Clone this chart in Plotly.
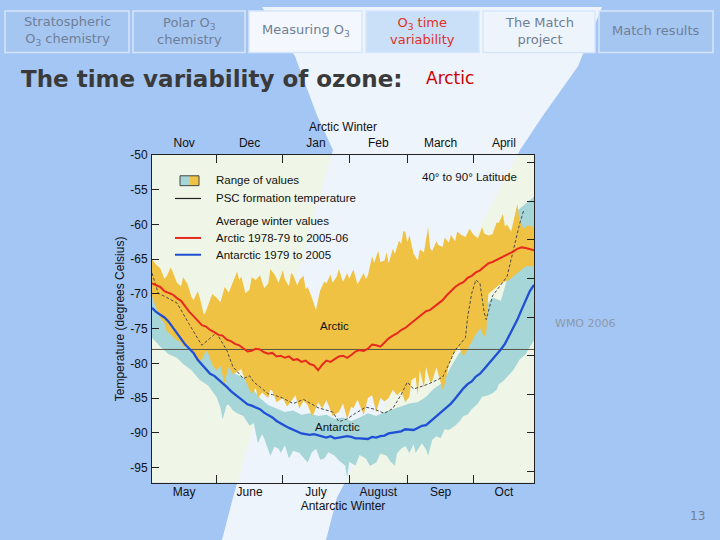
import plotly.graph_objects as go

# ---------------- data ----------------
# x = day of winter season (0 = 1 May for Antarctic / 1 Nov for Arctic)
month_bounds = [31, 63, 95, 123, 155]
month_centers = [15.5, 47, 79, 109, 139, 169.5]
antarctic_months = ["May", "June", "July", "August", "Sep", "Oct"]
arctic_months = ["Nov", "Dec", "Jan", "Feb", "March", "April"]
yticks = [-50, -55, -60, -65, -70, -75, -80, -85, -90, -95]
fticks = [-60, -70, -80, -90, -100, -110, -120, -130, -140]

psc_temp = -78.0

arctic_top_days = [0,2,4,6,7,9,10,12,14,15,17,19,20,22,23,25,26,28,29,31,33,35,37,39,41,42,43,45,47,48,50,52,54,56,
                   57,59,61,63,64,66,67,68,70,71,73,74,75,77,79,80,81,83,84,86,87,89,90,92,94,95,97,99,100,102,
                   103,104,106,107,109,110,112,113,114,116,117,119,120,121,122,123,124,126,128,129,131,132,133,
                   134,135,137,138,140,141,143,144,146,147,149,151,153,155,157,159,160,162,164,166,167,169,170,
                   171,173,174,176,177,179,181,184]
arctic_top = [-65.0,-65.8,-66.3,-67.8,-67.5,-66.2,-66.8,-68.4,-68.9,-67.6,-68.5,-70.4,-70.9,-69.6,-70.5,-73.0,-72.5,
              -70.6,-70.0,-70.5,-71.2,-69.0,-69.8,-68.3,-66.8,-68.0,-67.5,-69.9,-69.4,-67.6,-68.0,-67.3,-69.2,-68.5,
              -66.4,-67.2,-68.4,-66.6,-67.9,-68.9,-67.0,-67.3,-68.8,-68.0,-67.4,-69.3,-69.0,-70.5,-72.3,-70.8,-69.5,
              -68.2,-68.5,-67.2,-68.4,-67.5,-66.4,-68.3,-67.0,-67.8,-66.5,-68.6,-68.0,-67.0,-67.9,-67.3,-64.6,-65.5,
              -63.8,-65.4,-65.2,-64.0,-65.6,-63.5,-64.2,-62.3,-62.8,-61.0,-61.0,-62.6,-61.5,-64.2,-65.2,-63.6,-64.0,
              -62.0,-60.4,-63.5,-63.8,-62.4,-63.0,-63.2,-61.9,-62.6,-61.5,-62.4,-61.0,-61.5,-61.8,-60.6,-61.5,-62.0,
              -60.4,-61.3,-61.6,-61.4,-59.7,-59.8,-58.5,-60.3,-60.0,-61.0,-59.5,-57.0,-59.5,-60.6,-60.1,-60.4]

arctic_bot_days = [0,2,4,6,7,9,12,14,15,17,20,22,24,26,27,29,31,33,35,36,37,39,41,43,44,46,48,50,51,53,56,57,58,60,
                   63,65,67,69,71,73,75,77,78,80,82,84,85,87,90,92,94,96,97,99,100,102,104,106,108,110,112,114,
                   116,118,120,122,124,125,127,128,129,131,132,134,135,137,138,140,141,143,145,148,150,152,155,
                   158,160,161,162,165,168,172,176,180,184]
arctic_bot = [-70.3,-72.0,-73.5,-74.2,-75.3,-75.8,-76.7,-77.0,-77.7,-77.3,-78.5,-79.8,-79.5,-78.2,-78.5,-80.2,-81.0,
              -80.4,-83.0,-81.5,-80.5,-81.6,-81.2,-80.8,-81.7,-83.2,-84.4,-83.6,-85.0,-84.2,-85.0,-83.8,-84.0,-85.6,
              -85.0,-86.2,-85.5,-84.6,-86.5,-85.4,-86.0,-87.6,-87.2,-85.6,-86.5,-85.3,-86.0,-87.6,-87.0,-85.8,-88.0,
              -86.2,-86.5,-85.2,-86.0,-87.4,-85.0,-84.6,-87.0,-85.0,-85.5,-85.0,-83.8,-84.6,-84.0,-85.6,-84.8,-82.4,
              -82.0,-84.6,-81.0,-83.5,-80.5,-82.8,-82.5,-80.6,-81.5,-83.8,-83.0,-80.2,-78.7,-77.7,-79.0,-78.0,-76.3,
              -74.9,-76.2,-75.6,-70.0,-69.2,-68.5,-68.0,-67.0,-66.0,-66.0]

antarctic_top_days = [0,4,8,12,16,20,24,28,32,36,40,44,48,52,56,60,64,68,72,76,80,84,88,92,96,100,104,108,112,116,
                      120,124,128,132,136,140,144,148,152,156,160,164,168,172,174,176,180,184]
antarctic_top = [-66,-67.5,-69,-70.5,-72,-73.5,-75.5,-77,-78.5,-80,-81.5,-82,-83.5,-85,-86,-86.5,-87,-86.8,-87.4,
                 -87.2,-87.6,-87.4,-88,-87.8,-88.3,-87.8,-87.2,-87.6,-87,-86.6,-86.2,-85.8,-85.6,-84.8,-83.6,-82.8,
                 -80.5,-78.5,-77,-74.5,-72,-70.5,-71,-67,-62,-58,-57,-56]

antarctic_bot_days = [0,4,8,12,15,19,23,27,31,33,34,36,37,39,41,44,47,49,51,53,54,56,57,59,61,62,64,66,68,71,73,75,
                      77,79,81,83,85,88,90,93,94,95,98,100,103,105,108,110,113,115,117,118,120,122,124,126,127,
                      129,130,132,133,135,137,139,141,143,146,148,150,152,154,157,159,162,164,166,167,169,171,174,
                      177,180,182,184]
antarctic_bot = [-76.3,-77.6,-78.7,-79.2,-80.1,-81.0,-82.4,-83.2,-84.8,-86.4,-88.1,-86.0,-86.0,-86.8,-87.2,-87.6,
                 -89.0,-88.6,-91.5,-90.2,-90.8,-92.4,-93.3,-92.0,-92.3,-92.9,-91.8,-93.7,-92.6,-92.9,-93.6,-94.3,
                 -92.8,-92.3,-93.9,-93.7,-92.8,-93.3,-94.0,-94.7,-96.5,-94.2,-94.7,-93.2,-93.7,-94.8,-94.3,-93.0,
                 -93.3,-94.2,-94.7,-93.0,-92.3,-91.9,-92.9,-91.6,-92.9,-92.0,-91.5,-92.4,-93.3,-91.0,-90.5,-90.8,
                 -89.5,-89.6,-89.0,-88.4,-87.6,-87.4,-86.6,-85.8,-84.8,-84.6,-84.3,-83.8,-83.0,-82.6,-82.0,-81.0,
                 -79.5,-78.7,-77.6,-76.7]

mean_days = [0,2,4,6,8,10,12,14,16,18,20,22,24,26,28,30,32,34,36,38,40,42,44,46,48,50,52,54,56,58,60,62,64,66,68,
             70,72,74,76,78,80,82,84,86,88,90,92,94,96,98,100,102,104,106,108,110,112,114,116,118,120,122,124,126,
             128,130,132,134,136,138,140,142,144,146,148,150,152,154,156,158,160,162,164,166,168,170,172,174,176,
             178,180,182,184]
arctic_mean = [-68.5,-68.8,-69.0,-69.6,-69.8,-70.1,-70.6,-71.0,-71.8,-72.6,-73.2,-73.9,-74.5,-74.7,-75.2,-75.5,
               -75.9,-76.0,-76.6,-76.8,-77.2,-77.4,-77.9,-78.3,-78.2,-77.9,-78.0,-78.4,-78.6,-78.5,-79.0,-78.9,
               -79.2,-79.0,-79.5,-79.4,-79.8,-79.6,-80.1,-80.3,-81.0,-80.2,-79.6,-79.8,-79.4,-79.0,-78.9,-79.2,
               -78.8,-78.3,-78.1,-78.2,-77.9,-77.3,-77.4,-77.6,-77.0,-76.4,-76.0,-75.7,-75.2,-74.9,-74.4,-73.9,
               -73.4,-73.0,-72.5,-72.3,-71.8,-71.3,-70.9,-70.2,-69.6,-69.0,-68.6,-68.3,-67.7,-67.4,-66.9,-66.6,
               -66.1,-65.6,-65.4,-65.1,-64.8,-64.6,-64.2,-63.9,-63.5,-63.3,-63.4,-63.5,-63.7]
antarctic_mean = [-72.0,-72.6,-73.0,-73.4,-74.0,-74.8,-75.6,-76.4,-77.3,-77.9,-78.5,-79.5,-80.2,-80.9,-81.5,-81.8,
                  -82.3,-82.9,-83.4,-84.0,-84.5,-85.0,-85.5,-85.9,-86.1,-86.4,-86.6,-87.1,-87.4,-87.8,-88.3,-88.7,
                  -89.0,-89.3,-89.6,-89.9,-90.1,-90.2,-90.3,-90.2,-90.4,-90.6,-90.7,-90.5,-90.8,-90.7,-90.6,-90.5,
                  -90.6,-90.8,-90.8,-90.9,-90.9,-90.6,-90.7,-90.5,-90.4,-90.1,-90.0,-90.0,-89.8,-89.5,-89.5,-89.6,
                  -89.3,-89.0,-88.9,-88.4,-87.9,-87.4,-86.9,-86.4,-85.8,-85.1,-84.3,-83.6,-83.0,-82.6,-81.9,-81.5,
                  -80.8,-80.1,-79.5,-78.8,-78.0,-77.2,-76.0,-75.0,-73.7,-72.3,-71.0,-69.6,-68.7]

dashed_days = [0,3,7,12,18,24,31,36,39,42,44,47,49,52,56,58,63,68,73,80,84,87,90,94,98,103,107,112,116,120,
               123,126,133,140,143,146,151,152,154,156,158,160,161,164,171,174,177,179]
dashed_year = [-67,-69.9,-70.5,-71.3,-74.4,-77.4,-75.6,-78.1,-80.5,-81.5,-82.2,-81.8,-82.7,-83.4,-84.4,-84.5,-85,
               -85.8,-85.2,-86.4,-86.8,-87,-88.4,-88,-87.2,-86.3,-86.6,-87.2,-86.5,-84.5,-82.7,-83.7,-83,-82,-80.1,
               -78.1,-76.3,-73.4,-69.9,-68,-68.5,-72.7,-73.7,-70.3,-67.5,-63.8,-60,-58]

# ---------------- styles ----------------
TEAL = "#A6D6D8"
ORANGE = "#F0C244"
RED = "#E62B1E"
BLUE = "#1E4FD4"
PLOT_BG = "#EFF6E7"
SLIDE_BG = "#A4C6F4"
AX_FONT = dict(family="Liberation Sans, Arial, sans-serif", size=12, color="#111")

W, H = 720, 540
X0, X1, Y0, Y1 = 152, 534, 150, 482  # plot frame in pixels
XMAX = 184
YMIN, YMAX = -97.2, -50.0


def px(x):
    return x / W


def py(y):
    return 1 - y / H


fig = go.Figure()

fig.add_trace(go.Scatter(x=antarctic_top_days + antarctic_bot_days[::-1],
                         y=antarctic_top + antarctic_bot[::-1], fill="toself", fillcolor=TEAL,
                         line=dict(width=0), mode="lines", hoverinfo="skip", showlegend=False))
fig.add_trace(go.Scatter(x=arctic_top_days + arctic_bot_days[::-1],
                         y=arctic_top + arctic_bot[::-1], fill="toself", fillcolor=ORANGE,
                         line=dict(width=0), mode="lines", hoverinfo="skip", showlegend=False))
fig.add_trace(go.Scatter(x=[0, XMAX], y=[psc_temp, psc_temp], mode="lines",
                         line=dict(color="#555547", width=1), showlegend=False))
fig.add_trace(go.Scatter(x=dashed_days, y=dashed_year, mode="lines",
                         line=dict(color="#4a4a4a", width=1, dash="3px,2px"), showlegend=False))
fig.add_trace(go.Scatter(x=mean_days, y=arctic_mean, mode="lines",
                         line=dict(color=RED, width=2), showlegend=False))
fig.add_trace(go.Scatter(x=mean_days, y=antarctic_mean, mode="lines",
                         line=dict(color=BLUE, width=2.3), showlegend=False))

for xa, ya in [("x2", "y"), ("x3", "y"), ("x4", "y"), ("x", "y2")]:
    fig.add_trace(go.Scatter(x=[1], y=[-60 if ya == "y" else -80], xaxis=xa, yaxis=ya, mode="markers",
                             marker=dict(opacity=0), hoverinfo="skip", showlegend=False))

xdom = [px(X0), px(X1)]
ydom = [py(Y1), py(Y0)]
common_x = dict(range=[0, XMAX], domain=xdom, showgrid=False, zeroline=False, fixedrange=True)

fig.update_layout(
    width=W, height=H, margin=dict(l=0, r=0, t=0, b=0),
    paper_bgcolor=SLIDE_BG, plot_bgcolor=PLOT_BG, showlegend=False,
    xaxis=dict(**common_x, anchor="y", side="bottom", tickvals=month_bounds, showticklabels=False,
               ticks="inside", ticklen=8, tickcolor="#222", showline=True, linecolor="#222", linewidth=1),
    xaxis2=dict(**common_x, anchor="y", overlaying="x", side="bottom", tickvals=month_centers,
                ticktext=antarctic_months, ticks="", tickfont=AX_FONT, ticklabelstandoff=0,
                title=dict(text="Antarctic Winter", font=AX_FONT, standoff=3)),
    xaxis3=dict(**common_x, anchor="y", overlaying="x", side="top", tickvals=month_bounds,
                showticklabels=False, ticks="inside", ticklen=8, tickcolor="#222", showline=True,
                linecolor="#222", linewidth=1),
    xaxis4=dict(**common_x, anchor="y", overlaying="x", side="top", tickvals=month_centers,
                ticktext=arctic_months, ticks="", tickfont=AX_FONT, ticklabelstandoff=5,
                title=dict(text="Arctic Winter", font=AX_FONT, standoff=1)),
    yaxis=dict(range=[YMIN, YMAX], domain=ydom, tickvals=yticks, ticktext=[str(v) for v in yticks],
               ticks="inside", ticklen=7, tickcolor="#222", showline=True, linecolor="#222", linewidth=1,
               showgrid=False, zeroline=False, tickfont=AX_FONT, ticklabelstandoff=1, fixedrange=True,
               title=dict(text="Temperature (degrees Celsius)", font=AX_FONT, standoff=3)),
    yaxis2=dict(range=[YMIN * 9 / 5 + 32, YMAX * 9 / 5 + 32], domain=ydom, overlaying="y", side="right",
                anchor="x", tickvals=fticks, showticklabels=False, ticks="inside", ticklen=7,
                tickcolor="#222", showline=True, linecolor="#222", linewidth=1, showgrid=False,
                zeroline=False, fixedrange=True),
)

shapes = []
annotations = []

# slide background swoosh
shapes.append(dict(type="path", xref="paper", yref="paper", layer="below", line=dict(width=0),
                   fillcolor="#EEF4FC",
                   path=(f"M {px(262)},{py(0)} L {px(602)},{py(0)} L {px(578)},{py(60)} L {px(543)},{py(110)} "
                         f"L {px(520)},{py(145)} L {px(337)},{py(497)} L {px(326)},{py(540)} "
                         f"L {px(222)},{py(540)} L {px(233)},{py(497)} L {px(333)},{py(145)} "
                         f"L {px(317)},{py(110)} L {px(295)},{py(50)} Z")))

tabs = [(5, 129, "Stratospheric<br>O<sub>3</sub> chemistry", "#A6C6F2", "#6F7F96"),
        (133, 245, "Polar O<sub>3</sub><br>chemistry", "#A6C6F2", "#6F7F96"),
        (249, 362, "Measuring O<sub>3</sub>", "#F4F8FE", "#6F7F96"),
        (366, 479, "O<sub>3</sub> time<br>variability", "#C9E0F8", "#E0301E"),
        (483, 595, "The Match<br>project", "#EEF4FC", "#6F7F96"),
        (599, 713, "Match results", "#A6C6F2", "#6F7F96")]
for xa, xb, label, fill, tcol in tabs:
    shapes.append(dict(type="rect", xref="paper", yref="paper", x0=px(xa), x1=px(xb), y0=py(46), y1=py(4),
                       fillcolor=fill, line=dict(color="#D6E6FA", width=1.5), layer="below"))
    annotations.append(dict(x=px((xa + xb) / 2), y=py(24), xref="paper", yref="paper", text=label,
                            showarrow=False, xanchor="center", yanchor="middle", align="center",
                            font=dict(family="DejaVu Sans, Verdana, sans-serif", size=13, color=tcol)))

annotations.append(dict(x=px(19), y=py(73), xref="paper", yref="paper", showarrow=False,
                        xanchor="left", yanchor="middle", text="<b>The time variability of ozone:</b>",
                        font=dict(family="DejaVu Sans, Verdana, sans-serif", size=23, color="#3a3a3a")))
annotations.append(dict(x=px(424), y=py(72), xref="paper", yref="paper", showarrow=False,
                        xanchor="left", yanchor="middle", text="Arctic",
                        font=dict(family="DejaVu Sans, Verdana, sans-serif", size=17, color="#CC0000")))
annotations.append(dict(x=px(553), y=py(321), xref="paper", yref="paper", showarrow=False,
                        xanchor="left", yanchor="middle", text="WMO 2006",
                        font=dict(family="DejaVu Sans, Verdana, sans-serif", size=11, color="#8C99AA")))
annotations.append(dict(x=px(707), y=py(516), xref="paper", yref="paper", showarrow=False,
                        xanchor="right", yanchor="middle", text="13",
                        font=dict(family="DejaVu Sans, Verdana, sans-serif", size=12, color="#6F7F96")))

LBL = dict(family="Liberation Sans, Arial, sans-serif", size=11.5, color="#111")
for x, y, t, anc in [(469, 172, "40° to 90° Latitude", "center"), (334, 323, "Arctic", "center"),
                     (337, 426, "Antarctic", "center"), (214, 175, "Range of values", "left"),
                     (214, 194, "PSC formation temperature", "left"), (214, 217, "Average winter values", "left"),
                     (214, 234, "Arctic 1978-79 to 2005-06", "left"), (214, 251, "Antarctic 1979 to 2005", "left")]:
    annotations.append(dict(x=px(x), y=py(y), xref="paper", yref="paper", showarrow=False, text=t,
                            xanchor=anc, yanchor="middle", font=LBL))

shapes.append(dict(type="rect", xref="paper", yref="paper", x0=px(180), x1=px(190), y0=py(181), y1=py(171),
                   fillcolor=TEAL, line=dict(width=0)))
shapes.append(dict(type="rect", xref="paper", yref="paper", x0=px(190), x1=px(199), y0=py(181), y1=py(171),
                   fillcolor=ORANGE, line=dict(width=0)))
shapes.append(dict(type="rect", xref="paper", yref="paper", x0=px(180), x1=px(199), y0=py(181), y1=py(171),
                   line=dict(color="#444", width=1)))
for y, col, w in [(194, "#222", 1.2), (234, RED, 2), (251, BLUE, 2)]:
    shapes.append(dict(type="line", xref="paper", yref="paper", x0=px(175), x1=px(201), y0=py(y), y1=py(y),
                       line=dict(color=col, width=w)))

fig.update_layout(shapes=shapes, annotations=annotations)
fig.write_html("out.html", config={"displayModeBar": False},
               post_script="document.body.style.margin='0';")
